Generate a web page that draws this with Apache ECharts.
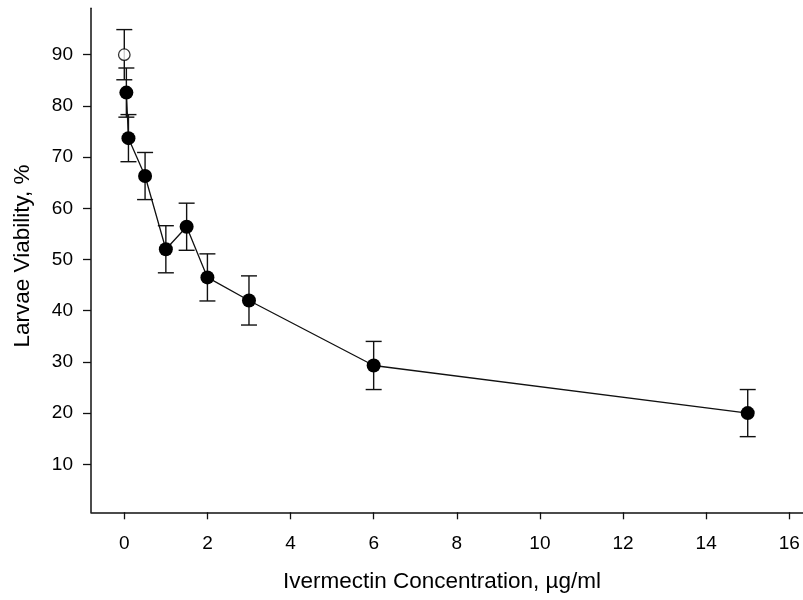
<!DOCTYPE html>
<html>
<head>
<meta charset="utf-8">
<script src="https://cdn.jsdelivr.net/npm/echarts@6/dist/echarts.min.js"></script>
<style>
  html, body { margin: 0; padding: 0; background: #fff; }
  #chart { width: 803px; height: 600px; }
</style>
</head>
<body>
<div id="chart"></div>
<script>
// Ivermectin dose (µg/ml) and larval viability (%), mean ± error
const dose = [0.05, 0.1, 0.5, 1, 1.5, 2, 3, 6, 15];
const viability = [82.6, 73.7, 66.3, 52.0, 56.4, 46.5, 42.0, 29.3, 20.0];
const viabilityErr = [4.8, 4.6, 4.6, 4.6, 4.6, 4.6, 4.8, 4.7, 4.6];

// untreated control
const controlDose = [0];
const controlViability = [90.0];
const controlErr = [4.9];

const xTicks = [0, 2, 4, 6, 8, 10, 12, 14, 16];
const yTicks = [10, 20, 30, 40, 50, 60, 70, 80, 90];

const FONT = '"Liberation Sans", Arial, Helvetica, sans-serif';

const errorRows = dose.map((d, i) => [d, viability[i] - viabilityErr[i], viability[i] + viabilityErr[i]])
  .concat(controlDose.map((d, i) => [d, controlViability[i] - controlErr[i], controlViability[i] + controlErr[i]]));

function renderErrorBar(params, api) {
  const x = api.value(0);
  const lo = api.coord([x, api.value(1)]);
  const hi = api.coord([x, api.value(2)]);
  const half = 8;
  const style = { stroke: '#111', lineWidth: 1.4, fill: null };
  return {
    type: 'group',
    children: [
      { type: 'line', shape: { x1: lo[0], y1: lo[1], x2: hi[0], y2: hi[1] }, style },
      { type: 'line', shape: { x1: hi[0] - half, y1: hi[1], x2: hi[0] + half, y2: hi[1] }, style },
      { type: 'line', shape: { x1: lo[0] - half, y1: lo[1], x2: lo[0] + half, y2: lo[1] }, style }
    ]
  };
}

const chart = echarts.init(document.getElementById('chart'), null, { renderer: 'canvas' });

chart.setOption({
  animation: false,
  backgroundColor: '#fff',
  grid: { left: 91, right: 0, top: 8.3, bottom: 87.7, containLabel: false },
  xAxis: {
    type: 'value',
    min: -0.801,
    max: 16.33,
    splitLine: { show: false },
    axisLine: { show: true, onZero: false, lineStyle: { color: '#111', width: 1.5 } },
    axisTick: { show: true, length: 7, inside: false, customValues: xTicks, lineStyle: { color: '#111', width: 1.3 } },
    axisLabel: { customValues: xTicks, color: '#000', fontSize: 19, fontFamily: FONT, margin: 22 }
  },
  yAxis: {
    type: 'value',
    min: 0.625,
    max: 99.06,
    splitLine: { show: false },
    axisLine: { show: true, onZero: false, lineStyle: { color: '#111', width: 1.5 } },
    axisTick: { show: true, length: 8, inside: false, customValues: yTicks, lineStyle: { color: '#111', width: 1.3 } },
    axisLabel: { customValues: yTicks, color: '#000', fontSize: 19, fontFamily: FONT, margin: 18 }
  },
  series: [
    {
      type: 'custom',
      renderItem: renderErrorBar,
      data: errorRows,
      encode: { x: 0, y: [1, 2] },
      z: 2,
      silent: true
    },
    {
      type: 'line',
      data: dose.map((d, i) => [d, viability[i]]),
      symbol: 'circle',
      symbolSize: 14,
      showSymbol: true,
      itemStyle: { color: '#000' },
      lineStyle: { color: '#111', width: 1.3 },
      z: 3,
      silent: true
    },
    {
      type: 'scatter',
      data: controlDose.map((d, i) => [d, controlViability[i]]),
      symbol: 'circle',
      symbolSize: 11.5,
      itemStyle: { color: '#fff', borderColor: '#000', borderWidth: 1.3 },
      z: 4,
      silent: true
    }
  ],
  graphic: [
    {
      type: 'text',
      x: 442, y: 582,
      style: {
        text: 'Ivermectin Concentration, µg/ml',
        font: '22.5px ' + FONT,
        fill: '#000',
        textAlign: 'center',
        textVerticalAlign: 'middle'
      }
    },
    {
      type: 'text',
      x: 23, y: 256,
      rotation: Math.PI / 2,
      style: {
        text: 'Larvae Viability, %',
        font: '22.5px ' + FONT,
        fill: '#000',
        textAlign: 'center',
        textVerticalAlign: 'middle'
      }
    }
  ]
});
</script>
</body>
</html>
